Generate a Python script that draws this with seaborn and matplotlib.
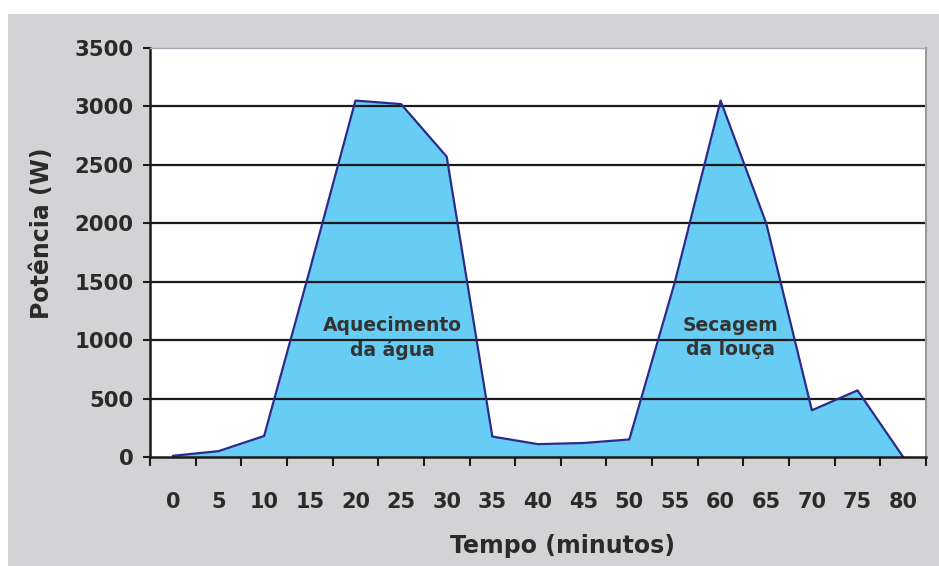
import numpy as np
import pandas as pd
import matplotlib
matplotlib.use("Agg")
import matplotlib.pyplot as plt
from matplotlib.patches import Rectangle
import seaborn as sns

# Power draw of a dishwasher cycle, sampled every 5 minutes
minutes = [0, 5, 10, 15, 20, 25, 30, 35, 40, 45, 50, 55, 60, 65, 70, 75, 80]
power_w = [10, 50, 180, 1600, 3050, 3020, 2570, 175, 110, 120, 150, 1500, 3050, 2000, 400, 570, 0]
y_ticks = [0, 500, 1000, 1500, 2000, 2500, 3000, 3500]
phase_labels = ["Aquecimento\nda água", "Secagem\nda louça"]
phase_pos = [(24.1, 1020), (61.1, 1020)]

df = pd.DataFrame({"Tempo (minutos)": minutes, "Potência (W)": power_w})

sns.set_style("white")
plt.rcParams["font.family"] = ["DejaVu Sans"]
plt.rcParams["font.weight"] = "bold"

W, H = 939, 566
fig = plt.figure(figsize=(W / 100, H / 100), dpi=100, facecolor="white")
panel_grey = "#d3d3d5"
fig.patches.append(Rectangle((8 / W, 0), 1 - 8 / W, 1 - 14 / H,
                             transform=fig.transFigure, facecolor=panel_grey,
                             edgecolor="none", zorder=-10))

ax = fig.add_axes([150 / W, 1 - 457 / H, (926 - 150) / W, (457 - 48) / H])
ax.set_facecolor("white")

fill_color = "#68cdf4"
line_color = "#2b2b8c"
ax.fill_between(df["Tempo (minutos)"], df["Potência (W)"], 0,
                color=fill_color, linewidth=0, zorder=1)
ax.hlines([v for v in y_ticks if 0 < v < 3500], 0, 1,
          transform=ax.get_yaxis_transform(), colors="#1a1a1a",
          linewidth=1.6, zorder=2)
sns.lineplot(data=df, x="Tempo (minutos)", y="Potência (W)", ax=ax,
             color=line_color, linewidth=1.6, zorder=3)

ax.set_xlim(-2.5, 82.5)
ax.set_ylim(0, 3500)

# Tick marks sit on the bin edges, labels sit in the middle of each bin
ax.set_xticks(np.arange(-2.5, 83, 5))
ax.set_xticklabels([])
ax.set_xticks(minutes, labels=[str(m) for m in minutes], minor=True)
ax.tick_params(axis="x", which="major", direction="out", length=6.5,
               width=1.5, color="#1a1a1a", bottom=True)
ax.tick_params(axis="x", which="minor", length=0, pad=25, labelsize=15,
               labelcolor="#2a2a2a", bottom=True)

ax.set_yticks(y_ticks)
ax.set_yticklabels([str(v) for v in y_ticks])
ax.tick_params(axis="y", direction="out", length=5, width=1.5,
               color="#1a1a1a", pad=7, labelsize=15.3, labelcolor="#2a2a2a",
               left=True)
for lbl in ax.get_xticklabels(minor=True) + ax.get_yticklabels():
    lbl.set_fontweight("bold")

ax.set_xlabel("")
ax.set_ylabel("")
ax.grid(False)

for side in ("left", "bottom"):
    ax.spines[side].set_color("#1a1a1a")
    ax.spines[side].set_linewidth(1.8)
ax.spines["right"].set_color("#9a9a9c")
ax.spines["right"].set_linewidth(1.5)
ax.spines["top"].set_color("#a7aab4")
ax.spines["top"].set_linewidth(1.0)
for s in ax.spines.values():
    s.set_zorder(4)

for text, (x, y) in zip(phase_labels, phase_pos):
    ax.text(x, y, text, ha="center", va="center", fontsize=13.5,
            fontweight="bold", color="#333333", linespacing=1.35, zorder=5)

fig.text(562 / W, 1 - 546 / H, "Tempo (minutos)", ha="center", va="center",
         fontsize=17, fontweight="bold", color="#2a2a2a")
fig.text(42 / W, 1 - 233 / H, "Potência (W)", ha="center", va="center",
         rotation=90, fontsize=17, fontweight="bold", color="#2a2a2a")

fig.savefig("out.png", dpi=100, facecolor=fig.get_facecolor())
